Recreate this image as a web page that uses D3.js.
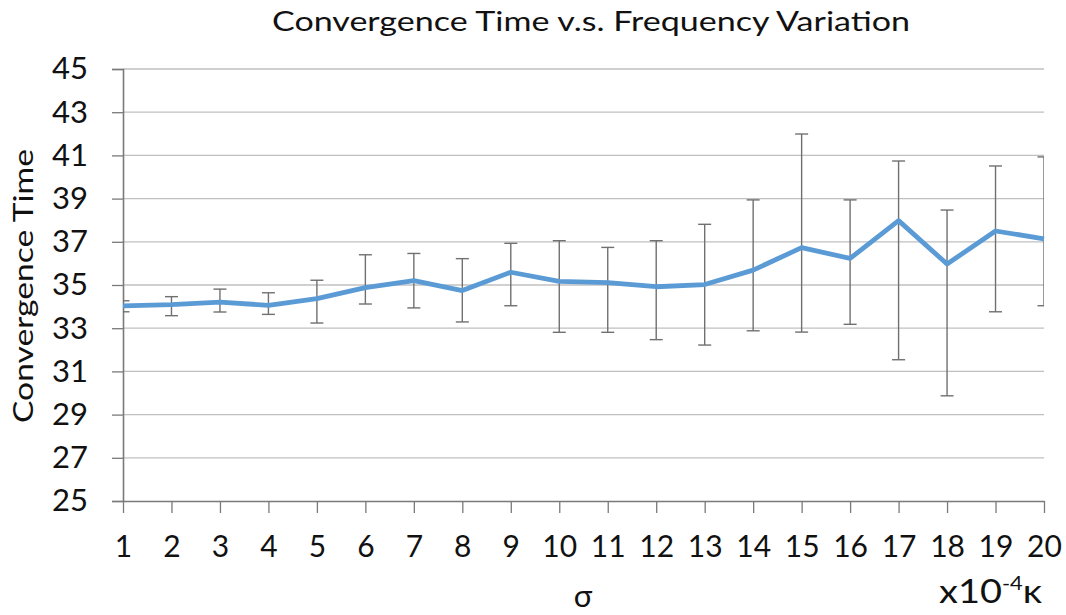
<!DOCTYPE html>
<html>
<head>
<meta charset="utf-8">
<script src="https://cdn.jsdelivr.net/npm/d3@7"></script>
<style>
  html, body { margin: 0; padding: 0; background: #fff; }
  svg { display: block; font-family: Lato, "Open Sans", sans-serif; }
</style>
</head>
<body>
<svg id="chart" width="1066" height="615"></svg>
<script>
const categories = [1,2,3,4,5,6,7,8,9,10,11,12,13,14,15,16,17,18,19,20];
const meanValues = [34.03, 34.09, 34.21, 34.06, 34.37, 34.88, 35.20, 34.74, 35.59, 35.17,
                    35.11, 34.92, 35.02, 35.69, 36.73, 36.23, 37.98, 35.97, 37.50, 37.14];
const upperValues = [34.27, 34.46, 34.81, 34.64, 35.22, 36.40, 36.46, 36.22, 36.93, 37.05,
                     36.74, 37.05, 37.81, 38.94, 41.99, 38.94, 40.74, 38.47, 40.51, 40.93];
const lowerValues = [33.76, 33.58, 33.75, 33.64, 33.24, 34.12, 33.94, 33.29, 34.04, 32.81,
                     32.81, 32.47, 32.22, 32.88, 32.82, 33.18, 31.54, 29.87, 33.76, 34.04];
const yTicks = [25,27,29,31,33,35,37,39,41,43,45];
const titleText = "Convergence Time v.s. Frequency Variation";
const yTitle = "Convergence Time";
const xTitle = "σ";

(function () {
const svg = d3.select("#chart");
const pLeft = 123, pRight = 1044, pTop = 69, pBottom = 501;

const x = d3.scalePoint().domain(categories).range([pLeft, pRight]);
const y = d3.scaleLinear().domain([25, 45]).range([pBottom, pTop]);

svg.append("defs").append("clipPath").attr("id", "plotclip")
  .append("rect").attr("x", pLeft).attr("y", 0).attr("width", pRight - pLeft).attr("height", 615);

// gridlines
svg.append("g").selectAll("line").data(yTicks.filter(t => t !== 25)).join("line")
  .attr("x1", pLeft).attr("x2", pRight)
  .attr("y1", d => y(d)).attr("y2", d => y(d))
  .attr("stroke", "#c0c0c0").attr("stroke-width", 1.3);

// y axis
const yAxis = svg.append("g").attr("transform", `translate(${pLeft},0)`)
  .call(d3.axisLeft(y).tickValues(yTicks).tickSize(11).tickPadding(24).tickFormat(d3.format("d")));
yAxis.select(".domain").attr("stroke", "#7a7a7a").attr("stroke-width", 1.6);
yAxis.selectAll(".tick line").attr("stroke", "#7a7a7a").attr("stroke-width", 1.3);
yAxis.selectAll("text").attr("font-size", 31).attr("fill", "#111").attr("font-family", "Lato");

// x axis
const xAxis = svg.append("g").attr("transform", `translate(0,${pBottom})`)
  .call(d3.axisBottom(x).tickSize(12).tickPadding(23).tickSizeOuter(0));
xAxis.select(".domain").attr("stroke", "#7a7a7a").attr("stroke-width", 1.6);
xAxis.selectAll(".tick line").attr("stroke", "#7a7a7a").attr("stroke-width", 1.3);
xAxis.selectAll("text").attr("font-size", 30).attr("fill", "#111").attr("font-family", "Lato");

// error bars
const eb = svg.append("g").attr("clip-path", "url(#plotclip)")
  .attr("stroke", "#707070").attr("stroke-width", 1.4).attr("fill", "none");
categories.forEach((c, i) => {
  const cx = x(c);
  eb.append("line").attr("x1", cx).attr("x2", cx).attr("y1", y(upperValues[i])).attr("y2", y(lowerValues[i]));
  eb.append("line").attr("x1", cx - 6.5).attr("x2", cx + 6.5).attr("y1", y(upperValues[i])).attr("y2", y(upperValues[i]));
  eb.append("line").attr("x1", cx - 6.5).attr("x2", cx + 6.5).attr("y1", y(lowerValues[i])).attr("y2", y(lowerValues[i]));
});

// line
const line = d3.line().x((d, i) => x(categories[i])).y(d => y(d));
svg.append("path").datum(meanValues)
  .attr("d", line).attr("fill", "none")
  .attr("stroke", "#5b9bd5").attr("stroke-width", 4.8)
  .attr("stroke-linejoin", "round").attr("stroke-linecap", "butt");

// title
svg.append("text").attr("x", 591).attr("y", 31).attr("text-anchor", "middle")
  .attr("font-size", 26).attr("fill", "#111")
  .attr("textLength", 638).attr("lengthAdjust", "spacingAndGlyphs")
  .text(titleText);

// y title
svg.append("text")
  .attr("transform", "translate(33,286) rotate(-90)")
  .attr("text-anchor", "middle").attr("font-size", 27).attr("fill", "#111")
  .attr("textLength", 274).attr("lengthAdjust", "spacingAndGlyphs")
  .text(yTitle);

// x title
svg.append("text").attr("x", 583).attr("y", 607).attr("text-anchor", "middle")
  .attr("font-size", 31).attr("fill", "#111").text(xTitle);

// unit label
const unit = svg.append("text").attr("x", 939).attr("y", 603).attr("text-anchor", "start")
  .attr("font-size", 33).attr("fill", "#111")
  .attr("textLength", 103).attr("lengthAdjust", "spacingAndGlyphs");
unit.append("tspan").text("x10");
unit.append("tspan").attr("font-size", 19).attr("dy", -13).text("-4");
unit.append("tspan").attr("dy", 13).text("κ");
})();
</script>
</body>
</html>
